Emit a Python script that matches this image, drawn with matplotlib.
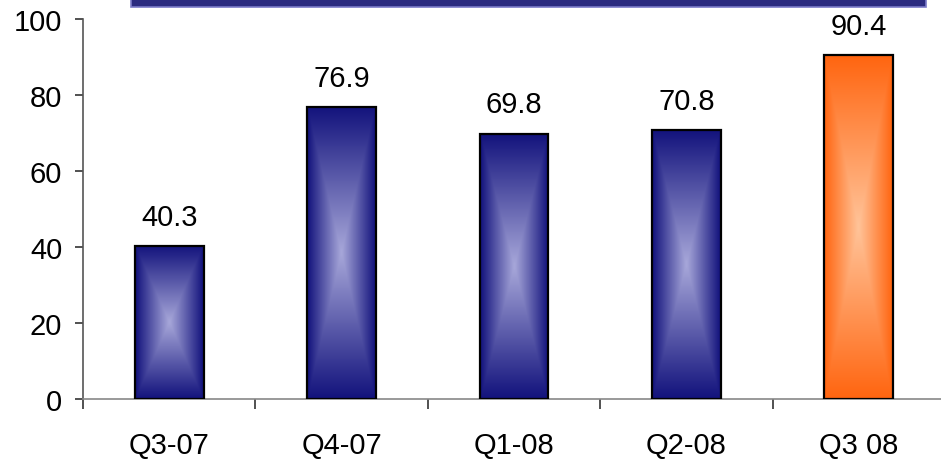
import numpy as np
import matplotlib
matplotlib.use('Agg')
import matplotlib.pyplot as plt
import matplotlib.patches as patches
from matplotlib.colors import to_rgb

plt.rcParams['font.family'] = ['Liberation Sans', 'DejaVu Sans']

# data
categories = ['Q3-07', 'Q4-07', 'Q1-08', 'Q2-08', 'Q3 08']
values = [40.3, 76.9, 69.8, 70.8, 90.4]
highlight = [False, False, False, False, True]

# colours (edge of gradient, centre of gradient)
blue_edge, blue_mid = '#12127c', '#a8a8da'
orange_edge, orange_mid = '#ff6510', '#ffc49a'

W, H = 941, 460
fig = plt.figure(figsize=(W / 100, H / 100), dpi=100)
ax = fig.add_axes([83 / W, 60 / H, 862 / W, 380 / H])
ax.set_xlim(-0.5, len(categories) - 0.5)
ax.set_ylim(0, 100)


def box_gradient(c_edge, c_mid, nx=60, ny=240):
    x = np.abs(np.linspace(-1, 1, nx))
    y = np.abs(np.linspace(-1, 1, ny))
    X, Y = np.meshgrid(x, y)
    t = 1 - np.maximum(X, Y)
    e = np.array(to_rgb(c_edge))
    m = np.array(to_rgb(c_mid))
    return e + (m - e) * t[..., None]


bar_w = 0.4
bars = ax.bar(range(len(categories)), values, width=bar_w, color='none',
              edgecolor='black', linewidth=1.6, zorder=3)

for i, (b, v) in enumerate(zip(bars, values)):
    if highlight[i]:
        img = box_gradient(orange_edge, orange_mid)
    else:
        img = box_gradient(blue_edge, blue_mid)
    x0 = b.get_x()
    im = ax.imshow(img, extent=[x0, x0 + bar_w, 0, v], aspect='auto',
                   interpolation='bilinear', zorder=2)
    im.set_clip_path(b)
    ax.annotate(f'{v:.1f}', (i, v), xytext=(0, 11), textcoords='offset points',
                ha='center', va='bottom', fontsize=21, annotation_clip=False)

ax.set_aspect('auto')

# axes styling
for s in ['top', 'right']:
    ax.spines[s].set_visible(False)
ax.spines['left'].set_color('#555555')
ax.spines['bottom'].set_color('#888888')
ax.spines['left'].set_linewidth(1.2)
ax.spines['bottom'].set_linewidth(1.2)

ax.set_yticks(range(0, 101, 20))
ax.tick_params(axis='y', labelsize=21, length=6, width=1.2, color='#333333', pad=9)
ax.set_xticks(range(len(categories)))
ax.set_xticklabels(categories)
ax.tick_params(axis='x', which='major', length=0, labelsize=21, pad=23)
ax.set_xticks(np.arange(-0.5, len(categories), 1.0), minor=True)
ax.tick_params(axis='x', which='minor', length=7, width=1.2, color='#333333')

# partial title box at top
fig.add_artist(patches.Rectangle((131 / W, (H - 8) / H), 795 / W, 20 / H,
                                 transform=fig.transFigure, facecolor='#2b2b80',
                                 edgecolor='#7a7ac8', linewidth=1.2))

fig.savefig('out.png', dpi=100)
